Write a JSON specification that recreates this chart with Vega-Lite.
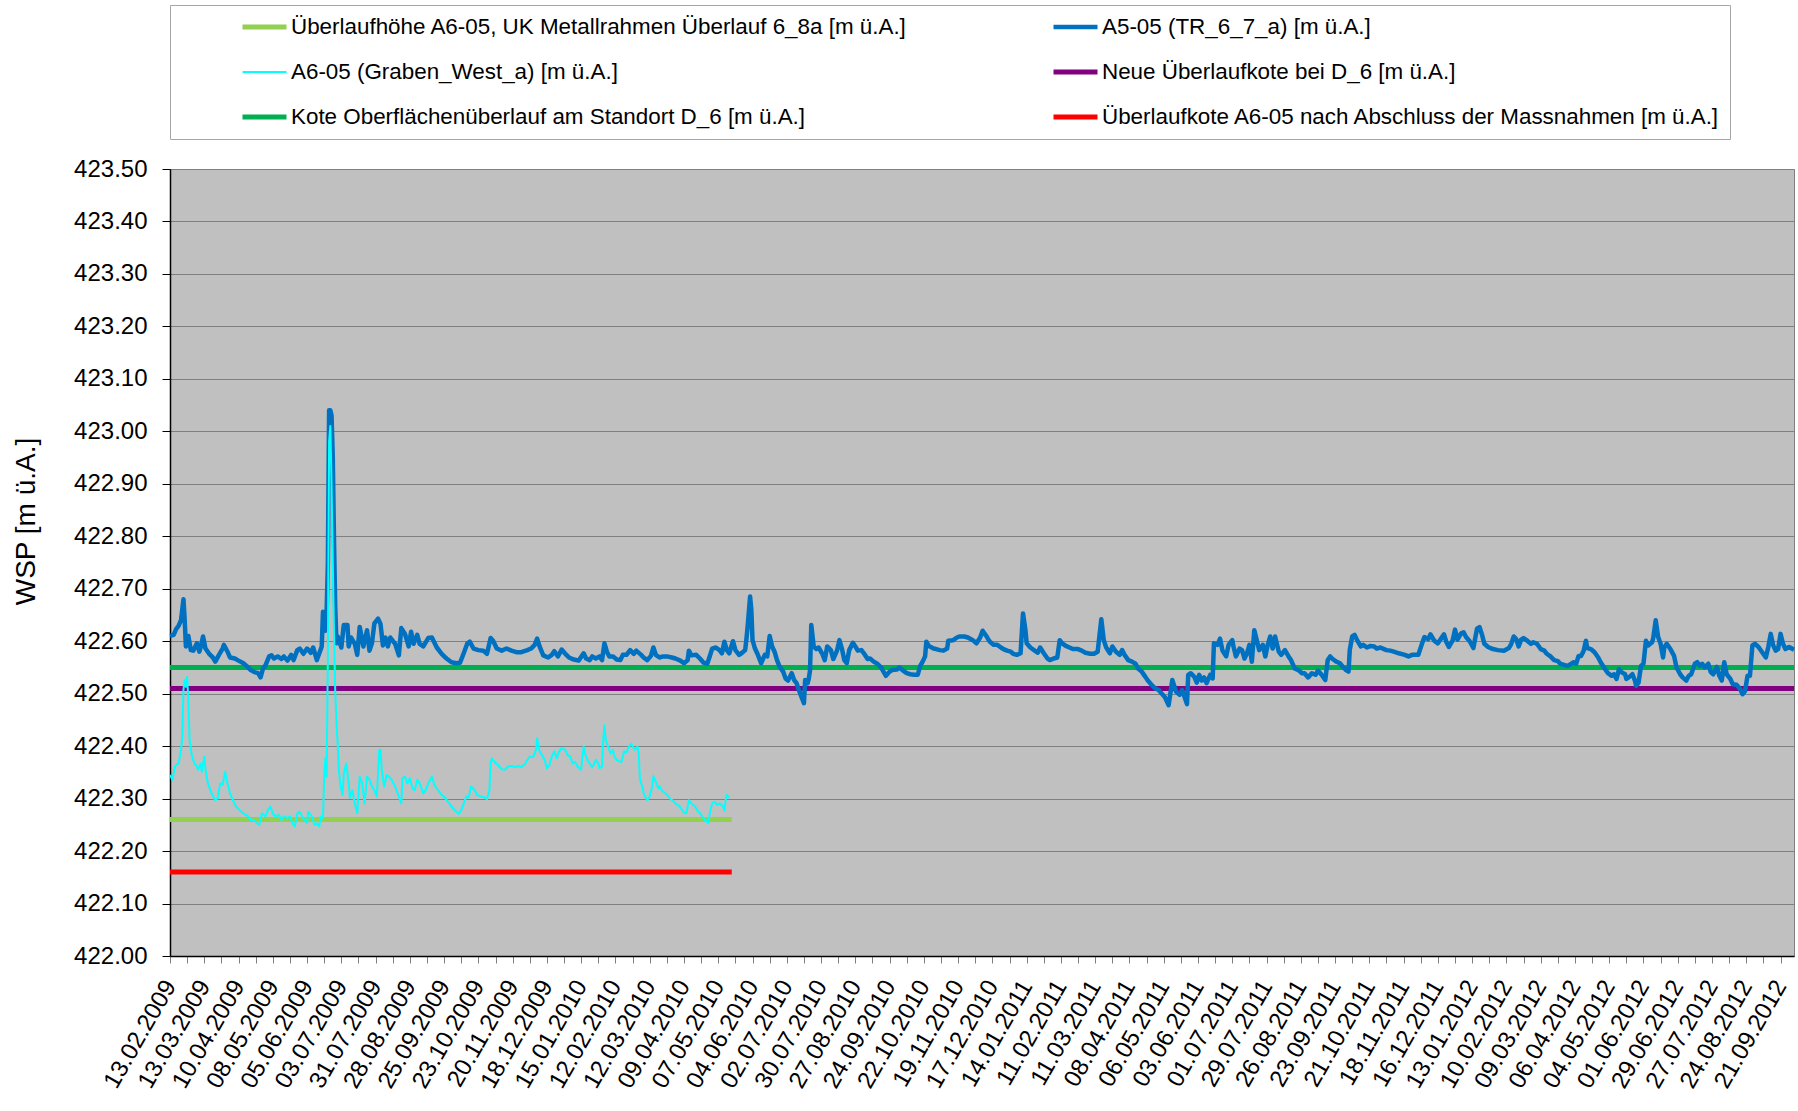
{
"$schema": "https://vega.github.io/schema/vega-lite/v6.json",
"width": 1624,
"height": 787,
"autosize": {"type": "none"},
"padding": {"left": 170, "top": 169, "right": 4, "bottom": 155},
"background": "white",
"config": {
  "font": "Liberation Sans",
  "view": {"fill": "#C0C0C0", "stroke": "#808080", "strokeWidth": 1},
  "legend": {
    "orient": "none", "legendX": 0, "legendY": -164, "columns": 2,
    "columnPadding": 143, "rowPadding": 19, "padding": 9, "clipHeight": 26,
    "symbolType": "stroke", "symbolSize": 1936,
    "labelFontSize": 22.4, "labelColor": "black", "labelOffset": 2, "labelLimit": 1000,
    "titleOrient": "left", "titleFontSize": 1, "titlePadding": 61,
    "strokeColor": "#A6A6A6", "fillColor": "white"
  }
},
"datasets": {
"refs": [
{"date":"2009-02-13","value":422.26,"series":"Überlaufhöhe A6-05, UK Metallrahmen Überlauf 6_8a [m ü.A.]"},
{"date":"2010-05-18","value":422.26,"series":"Überlaufhöhe A6-05, UK Metallrahmen Überlauf 6_8a [m ü.A.]"},
{"date":"2009-02-13","value":422.16,"series":"Überlaufkote A6-05 nach Abschluss der Massnahmen [m ü.A.]"},
{"date":"2010-05-18","value":422.16,"series":"Überlaufkote A6-05 nach Abschluss der Massnahmen [m ü.A.]"},
{"date":"2009-02-13","value":422.55,"series":"Kote Oberflächenüberlauf am Standort D_6 [m ü.A.]"},
{"date":"2012-10-02","value":422.55,"series":"Kote Oberflächenüberlauf am Standort D_6 [m ü.A.]"},
{"date":"2009-02-13","value":422.51,"series":"Neue Überlaufkote bei D_6 [m ü.A.]"},
{"date":"2012-10-02","value":422.51,"series":"Neue Überlaufkote bei D_6 [m ü.A.]"}
],
"a5": [
{"date":"2009-02-13","value":422.61},{"date":"2009-02-16","value":422.612},{"date":"2009-02-18","value":422.623},{"date":"2009-02-20","value":422.629},{"date":"2009-02-22","value":422.64},{"date":"2009-02-24","value":422.68},{"date":"2009-02-25","value":422.64},{"date":"2009-02-26","value":422.59},{"date":"2009-02-28","value":422.61},
{"date":"2009-03-02","value":422.583},{"date":"2009-03-04","value":422.582},{"date":"2009-03-07","value":422.596},{"date":"2009-03-09","value":422.58},{"date":"2009-03-10","value":422.588},{"date":"2009-03-12","value":422.609},{"date":"2009-03-14","value":422.586},{"date":"2009-03-17","value":422.576},{"date":"2009-03-20","value":422.569},{"date":"2009-03-22","value":422.561},{"date":"2009-03-25","value":422.574},{"date":"2009-03-28","value":422.586},{"date":"2009-03-29","value":422.593},
{"date":"2009-04-01","value":422.58},{"date":"2009-04-03","value":422.569},{"date":"2009-04-07","value":422.567},{"date":"2009-04-10","value":422.563},{"date":"2009-04-14","value":422.558},{"date":"2009-04-17","value":422.552},{"date":"2009-04-20","value":422.545},{"date":"2009-04-23","value":422.541},{"date":"2009-04-26","value":422.539},{"date":"2009-04-28","value":422.531},{"date":"2009-04-30","value":422.548},
{"date":"2009-05-02","value":422.554},{"date":"2009-05-05","value":422.571},{"date":"2009-05-07","value":422.573},{"date":"2009-05-09","value":422.567},{"date":"2009-05-12","value":422.571},{"date":"2009-05-15","value":422.566},{"date":"2009-05-17","value":422.571},{"date":"2009-05-20","value":422.563},{"date":"2009-05-23","value":422.574},{"date":"2009-05-25","value":422.564},{"date":"2009-05-28","value":422.583},{"date":"2009-05-30","value":422.586},
{"date":"2009-06-02","value":422.576},{"date":"2009-06-05","value":422.586},{"date":"2009-06-08","value":422.578},{"date":"2009-06-10","value":422.588},{"date":"2009-06-13","value":422.564},{"date":"2009-06-15","value":422.577},{"date":"2009-06-17","value":422.59},{"date":"2009-06-18","value":422.656},{"date":"2009-06-20","value":422.62},{"date":"2009-06-21","value":422.658},{"date":"2009-06-22","value":422.75},{"date":"2009-06-23","value":423.04},{"date":"2009-06-24","value":423.04},{"date":"2009-06-25","value":423.03},{"date":"2009-06-26","value":422.952},{"date":"2009-06-27","value":422.793},{"date":"2009-06-28","value":422.666},{"date":"2009-06-29","value":422.596},{"date":"2009-06-30","value":422.609},
{"date":"2009-07-03","value":422.588},{"date":"2009-07-05","value":422.631},{"date":"2009-07-08","value":422.631},{"date":"2009-07-09","value":422.59},{"date":"2009-07-11","value":422.607},{"date":"2009-07-14","value":422.595},{"date":"2009-07-16","value":422.574},{"date":"2009-07-18","value":422.627},{"date":"2009-07-21","value":422.59},{"date":"2009-07-24","value":422.621},{"date":"2009-07-26","value":422.582},{"date":"2009-07-28","value":422.596},{"date":"2009-07-30","value":422.634},
{"date":"2009-08-02","value":422.643},{"date":"2009-08-04","value":422.633},{"date":"2009-08-06","value":422.592},{"date":"2009-08-08","value":422.607},{"date":"2009-08-10","value":422.59},{"date":"2009-08-12","value":422.607},{"date":"2009-08-16","value":422.595},{"date":"2009-08-19","value":422.573},{"date":"2009-08-21","value":422.625},{"date":"2009-08-24","value":422.614},{"date":"2009-08-27","value":422.59},{"date":"2009-08-29","value":422.618},{"date":"2009-08-31","value":422.595},
{"date":"2009-09-03","value":422.612},{"date":"2009-09-05","value":422.595},{"date":"2009-09-08","value":422.59},{"date":"2009-09-12","value":422.606},{"date":"2009-09-15","value":422.607},{"date":"2009-09-19","value":422.588},{"date":"2009-09-23","value":422.576},{"date":"2009-09-27","value":422.567},
{"date":"2009-10-01","value":422.56},{"date":"2009-10-05","value":422.558},{"date":"2009-10-08","value":422.559},{"date":"2009-10-11","value":422.577},{"date":"2009-10-14","value":422.596},{"date":"2009-10-16","value":422.599},{"date":"2009-10-19","value":422.586},{"date":"2009-10-23","value":422.583},{"date":"2009-10-27","value":422.582},{"date":"2009-10-30","value":422.576},
{"date":"2009-11-02","value":422.606},{"date":"2009-11-04","value":422.601},{"date":"2009-11-07","value":422.586},{"date":"2009-11-11","value":422.582},{"date":"2009-11-15","value":422.586},{"date":"2009-11-19","value":422.582},{"date":"2009-11-23","value":422.579},{"date":"2009-11-27","value":422.579},
{"date":"2009-12-02","value":422.583},{"date":"2009-12-05","value":422.586},{"date":"2009-12-08","value":422.593},{"date":"2009-12-10","value":422.605},{"date":"2009-12-12","value":422.59},{"date":"2009-12-15","value":422.573},{"date":"2009-12-19","value":422.569},{"date":"2009-12-22","value":422.574},{"date":"2009-12-24","value":422.581},{"date":"2009-12-27","value":422.571},{"date":"2009-12-30","value":422.584},
{"date":"2010-01-02","value":422.576},{"date":"2010-01-05","value":422.569},{"date":"2010-01-09","value":422.565},{"date":"2010-01-13","value":422.563},{"date":"2010-01-17","value":422.577},{"date":"2010-01-19","value":422.567},{"date":"2010-01-22","value":422.564},{"date":"2010-01-24","value":422.571},{"date":"2010-01-27","value":422.567},{"date":"2010-01-30","value":422.571},
{"date":"2010-02-01","value":422.564},{"date":"2010-02-03","value":422.596},{"date":"2010-02-05","value":422.58},{"date":"2010-02-07","value":422.571},{"date":"2010-02-10","value":422.571},{"date":"2010-02-13","value":422.565},{"date":"2010-02-16","value":422.564},{"date":"2010-02-18","value":422.574},{"date":"2010-02-21","value":422.574},{"date":"2010-02-24","value":422.583},{"date":"2010-02-27","value":422.576},
{"date":"2010-03-01","value":422.582},{"date":"2010-03-05","value":422.574},{"date":"2010-03-07","value":422.569},{"date":"2010-03-10","value":422.564},{"date":"2010-03-13","value":422.572},{"date":"2010-03-15","value":422.588},{"date":"2010-03-17","value":422.574},{"date":"2010-03-20","value":422.569},{"date":"2010-03-23","value":422.571},{"date":"2010-03-26","value":422.571},{"date":"2010-03-30","value":422.569},
{"date":"2010-04-02","value":422.567},{"date":"2010-04-06","value":422.563},{"date":"2010-04-09","value":422.558},{"date":"2010-04-12","value":422.564},{"date":"2010-04-13","value":422.582},{"date":"2010-04-15","value":422.573},{"date":"2010-04-19","value":422.574},{"date":"2010-04-22","value":422.567},{"date":"2010-04-25","value":422.559},{"date":"2010-04-28","value":422.557},{"date":"2010-04-30","value":422.571},
{"date":"2010-05-02","value":422.586},{"date":"2010-05-05","value":422.588},{"date":"2010-05-08","value":422.583},{"date":"2010-05-10","value":422.577},{"date":"2010-05-12","value":422.599},{"date":"2010-05-14","value":422.583},{"date":"2010-05-16","value":422.577},{"date":"2010-05-19","value":422.6},{"date":"2010-05-21","value":422.583},{"date":"2010-05-24","value":422.574},{"date":"2010-05-26","value":422.577},{"date":"2010-05-29","value":422.583},{"date":"2010-05-30","value":422.604},{"date":"2010-05-31","value":422.628},
{"date":"2010-06-02","value":422.685},{"date":"2010-06-03","value":422.66},{"date":"2010-06-04","value":422.602},{"date":"2010-06-06","value":422.586},{"date":"2010-06-08","value":422.576},{"date":"2010-06-11","value":422.558},{"date":"2010-06-14","value":422.574},{"date":"2010-06-16","value":422.571},{"date":"2010-06-18","value":422.61},{"date":"2010-06-20","value":422.59},{"date":"2010-06-22","value":422.58},{"date":"2010-06-24","value":422.564},{"date":"2010-06-26","value":422.552},{"date":"2010-06-29","value":422.542},
{"date":"2010-07-01","value":422.529},{"date":"2010-07-03","value":422.525},{"date":"2010-07-06","value":422.539},{"date":"2010-07-08","value":422.526},{"date":"2010-07-10","value":422.52},{"date":"2010-07-12","value":422.506},{"date":"2010-07-14","value":422.494},{"date":"2010-07-16","value":422.482},{"date":"2010-07-17","value":422.526},{"date":"2010-07-19","value":422.52},{"date":"2010-07-20","value":422.529},{"date":"2010-07-21","value":422.545},{"date":"2010-07-22","value":422.631},{"date":"2010-07-24","value":422.59},{"date":"2010-07-26","value":422.585},{"date":"2010-07-28","value":422.588},{"date":"2010-07-31","value":422.576},
{"date":"2010-08-02","value":422.564},{"date":"2010-08-04","value":422.59},{"date":"2010-08-07","value":422.583},{"date":"2010-08-09","value":422.566},{"date":"2010-08-12","value":422.582},{"date":"2010-08-14","value":422.602},{"date":"2010-08-16","value":422.586},{"date":"2010-08-18","value":422.564},{"date":"2010-08-20","value":422.558},{"date":"2010-08-22","value":422.583},{"date":"2010-08-25","value":422.597},{"date":"2010-08-27","value":422.59},{"date":"2010-08-29","value":422.582},
{"date":"2010-09-01","value":422.583},{"date":"2010-09-03","value":422.577},{"date":"2010-09-06","value":422.566},{"date":"2010-09-08","value":422.567},{"date":"2010-09-11","value":422.561},{"date":"2010-09-14","value":422.557},{"date":"2010-09-17","value":422.55},{"date":"2010-09-19","value":422.542},{"date":"2010-09-21","value":422.534},{"date":"2010-09-24","value":422.542},{"date":"2010-09-26","value":422.545},{"date":"2010-09-30","value":422.546},
{"date":"2010-10-02","value":422.55},{"date":"2010-10-05","value":422.544},{"date":"2010-10-08","value":422.539},{"date":"2010-10-11","value":422.537},{"date":"2010-10-14","value":422.536},{"date":"2010-10-17","value":422.536},{"date":"2010-10-19","value":422.553},{"date":"2010-10-21","value":422.561},{"date":"2010-10-23","value":422.571},{"date":"2010-10-24","value":422.599},{"date":"2010-10-26","value":422.591},{"date":"2010-10-30","value":422.586},
{"date":"2010-11-01","value":422.585},{"date":"2010-11-04","value":422.583},{"date":"2010-11-07","value":422.582},{"date":"2010-11-10","value":422.586},{"date":"2010-11-11","value":422.601},{"date":"2010-11-15","value":422.602},{"date":"2010-11-18","value":422.607},{"date":"2010-11-20","value":422.609},{"date":"2010-11-24","value":422.609},{"date":"2010-11-27","value":422.607},
{"date":"2010-12-01","value":422.602},{"date":"2010-12-04","value":422.596},{"date":"2010-12-07","value":422.607},{"date":"2010-12-09","value":422.62},{"date":"2010-12-12","value":422.61},{"date":"2010-12-14","value":422.602},{"date":"2010-12-15","value":422.599},{"date":"2010-12-18","value":422.593},{"date":"2010-12-21","value":422.593},{"date":"2010-12-24","value":422.588},{"date":"2010-12-26","value":422.585},{"date":"2010-12-29","value":422.582},
{"date":"2011-01-01","value":422.58},{"date":"2011-01-03","value":422.576},{"date":"2011-01-06","value":422.574},{"date":"2011-01-09","value":422.577},{"date":"2011-01-11","value":422.653},{"date":"2011-01-13","value":422.621},{"date":"2011-01-14","value":422.596},{"date":"2011-01-17","value":422.588},{"date":"2011-01-20","value":422.583},{"date":"2011-01-23","value":422.578},{"date":"2011-01-25","value":422.588},{"date":"2011-01-28","value":422.577},{"date":"2011-01-31","value":422.567},
{"date":"2011-02-02","value":422.564},{"date":"2011-02-05","value":422.567},{"date":"2011-02-08","value":422.569},{"date":"2011-02-10","value":422.602},{"date":"2011-02-12","value":422.596},{"date":"2011-02-15","value":422.591},{"date":"2011-02-18","value":422.588},{"date":"2011-02-21","value":422.585},{"date":"2011-02-25","value":422.585},{"date":"2011-02-28","value":422.582},
{"date":"2011-03-03","value":422.578},{"date":"2011-03-07","value":422.576},{"date":"2011-03-10","value":422.576},{"date":"2011-03-13","value":422.58},{"date":"2011-03-16","value":422.642},{"date":"2011-03-18","value":422.602},{"date":"2011-03-20","value":422.588},{"date":"2011-03-23","value":422.577},{"date":"2011-03-25","value":422.59},{"date":"2011-03-28","value":422.58},{"date":"2011-03-31","value":422.574},
{"date":"2011-04-02","value":422.583},{"date":"2011-04-04","value":422.574},{"date":"2011-04-07","value":422.564},{"date":"2011-04-10","value":422.561},{"date":"2011-04-13","value":422.557},{"date":"2011-04-15","value":422.548},{"date":"2011-04-18","value":422.542},{"date":"2011-04-21","value":422.532},{"date":"2011-04-23","value":422.525},{"date":"2011-04-26","value":422.517},{"date":"2011-04-29","value":422.51},
{"date":"2011-05-02","value":422.507},{"date":"2011-05-04","value":422.501},{"date":"2011-05-07","value":422.493},{"date":"2011-05-10","value":422.478},{"date":"2011-05-11","value":422.494},{"date":"2011-05-13","value":422.526},{"date":"2011-05-15","value":422.512},{"date":"2011-05-16","value":422.504},{"date":"2011-05-19","value":422.498},{"date":"2011-05-21","value":422.507},{"date":"2011-05-23","value":422.494},{"date":"2011-05-25","value":422.48},{"date":"2011-05-26","value":422.536},{"date":"2011-05-28","value":422.539},{"date":"2011-05-31","value":422.532},
{"date":"2011-06-02","value":422.521},{"date":"2011-06-04","value":422.536},{"date":"2011-06-06","value":422.525},{"date":"2011-06-08","value":422.531},{"date":"2011-06-10","value":422.52},{"date":"2011-06-13","value":422.536},{"date":"2011-06-15","value":422.529},{"date":"2011-06-16","value":422.596},{"date":"2011-06-19","value":422.593},{"date":"2011-06-21","value":422.605},{"date":"2011-06-23","value":422.582},{"date":"2011-06-26","value":422.571},{"date":"2011-06-28","value":422.593},
{"date":"2011-07-01","value":422.602},{"date":"2011-07-02","value":422.59},{"date":"2011-07-04","value":422.571},{"date":"2011-07-07","value":422.586},{"date":"2011-07-09","value":422.583},{"date":"2011-07-11","value":422.567},{"date":"2011-07-13","value":422.577},{"date":"2011-07-15","value":422.593},{"date":"2011-07-17","value":422.561},{"date":"2011-07-19","value":422.621},{"date":"2011-07-21","value":422.602},{"date":"2011-07-23","value":422.583},{"date":"2011-07-26","value":422.593},{"date":"2011-07-28","value":422.571},{"date":"2011-07-30","value":422.593},
{"date":"2011-08-01","value":422.609},{"date":"2011-08-03","value":422.586},{"date":"2011-08-05","value":422.609},{"date":"2011-08-08","value":422.58},{"date":"2011-08-10","value":422.574},{"date":"2011-08-13","value":422.583},{"date":"2011-08-16","value":422.571},{"date":"2011-08-18","value":422.564},{"date":"2011-08-21","value":422.548},{"date":"2011-08-24","value":422.545},{"date":"2011-08-27","value":422.539},{"date":"2011-08-29","value":422.539},
{"date":"2011-09-01","value":422.531},{"date":"2011-09-04","value":422.539},{"date":"2011-09-07","value":422.536},{"date":"2011-09-09","value":422.544},{"date":"2011-09-12","value":422.536},{"date":"2011-09-15","value":422.526},{"date":"2011-09-17","value":422.564},{"date":"2011-09-19","value":422.571},{"date":"2011-09-21","value":422.566},{"date":"2011-09-24","value":422.561},{"date":"2011-09-27","value":422.558},{"date":"2011-09-29","value":422.552},
{"date":"2011-10-02","value":422.545},{"date":"2011-10-04","value":422.542},{"date":"2011-10-05","value":422.583},{"date":"2011-10-07","value":422.609},{"date":"2011-10-09","value":422.612},{"date":"2011-10-11","value":422.602},{"date":"2011-10-14","value":422.59},{"date":"2011-10-16","value":422.593},{"date":"2011-10-19","value":422.588},{"date":"2011-10-22","value":422.591},{"date":"2011-10-25","value":422.59},{"date":"2011-10-27","value":422.586},{"date":"2011-10-30","value":422.588},
{"date":"2011-11-02","value":422.585},{"date":"2011-11-04","value":422.583},{"date":"2011-11-07","value":422.582},{"date":"2011-11-10","value":422.58},{"date":"2011-11-14","value":422.577},{"date":"2011-11-19","value":422.574},{"date":"2011-11-22","value":422.571},{"date":"2011-11-25","value":422.574},{"date":"2011-11-30","value":422.574},
{"date":"2011-12-03","value":422.595},{"date":"2011-12-05","value":422.608},{"date":"2011-12-08","value":422.604},{"date":"2011-12-10","value":422.613},{"date":"2011-12-13","value":422.601},{"date":"2011-12-16","value":422.596},{"date":"2011-12-18","value":422.603},{"date":"2011-12-21","value":422.613},{"date":"2011-12-23","value":422.598},{"date":"2011-12-25","value":422.589},{"date":"2011-12-28","value":422.601},{"date":"2011-12-30","value":422.622},
{"date":"2012-01-01","value":422.603},{"date":"2012-01-04","value":422.615},{"date":"2012-01-06","value":422.617},{"date":"2012-01-08","value":422.608},{"date":"2012-01-11","value":422.6},{"date":"2012-01-14","value":422.587},{"date":"2012-01-17","value":422.624},{"date":"2012-01-19","value":422.627},{"date":"2012-01-21","value":422.613},{"date":"2012-01-23","value":422.595},{"date":"2012-01-26","value":422.589},{"date":"2012-01-30","value":422.585},
{"date":"2012-02-03","value":422.583},{"date":"2012-02-08","value":422.582},{"date":"2012-02-12","value":422.587},{"date":"2012-02-14","value":422.595},{"date":"2012-02-16","value":422.609},{"date":"2012-02-18","value":422.604},{"date":"2012-02-20","value":422.59},{"date":"2012-02-22","value":422.603},{"date":"2012-02-24","value":422.606},{"date":"2012-02-27","value":422.601},
{"date":"2012-03-01","value":422.595},{"date":"2012-03-03","value":422.598},{"date":"2012-03-06","value":422.595},{"date":"2012-03-09","value":422.585},{"date":"2012-03-12","value":422.582},{"date":"2012-03-14","value":422.576},{"date":"2012-03-17","value":422.571},{"date":"2012-03-20","value":422.564},{"date":"2012-03-23","value":422.562},{"date":"2012-03-25","value":422.557},{"date":"2012-03-28","value":422.555},{"date":"2012-03-31","value":422.553},
{"date":"2012-04-03","value":422.557},{"date":"2012-04-05","value":422.56},{"date":"2012-04-07","value":422.557},{"date":"2012-04-09","value":422.572},{"date":"2012-04-11","value":422.572},{"date":"2012-04-13","value":422.581},{"date":"2012-04-15","value":422.601},{"date":"2012-04-16","value":422.587},{"date":"2012-04-19","value":422.585},{"date":"2012-04-22","value":422.579},{"date":"2012-04-25","value":422.569},{"date":"2012-04-27","value":422.56},{"date":"2012-04-30","value":422.549},
{"date":"2012-05-03","value":422.539},{"date":"2012-05-06","value":422.534},{"date":"2012-05-08","value":422.537},{"date":"2012-05-10","value":422.528},{"date":"2012-05-12","value":422.547},{"date":"2012-05-14","value":422.541},{"date":"2012-05-17","value":422.537},{"date":"2012-05-18","value":422.528},{"date":"2012-05-20","value":422.531},{"date":"2012-05-23","value":422.537},{"date":"2012-05-25","value":422.525},{"date":"2012-05-26","value":422.515},{"date":"2012-05-28","value":422.521},{"date":"2012-05-30","value":422.553},
{"date":"2012-06-01","value":422.557},{"date":"2012-06-03","value":422.601},{"date":"2012-06-05","value":422.592},{"date":"2012-06-08","value":422.598},{"date":"2012-06-09","value":422.606},{"date":"2012-06-11","value":422.64},{"date":"2012-06-13","value":422.608},{"date":"2012-06-15","value":422.595},{"date":"2012-06-17","value":422.569},{"date":"2012-06-18","value":422.588},{"date":"2012-06-20","value":422.595},{"date":"2012-06-23","value":422.585},{"date":"2012-06-26","value":422.572},{"date":"2012-06-28","value":422.55},
{"date":"2012-07-01","value":422.537},{"date":"2012-07-03","value":422.531},{"date":"2012-07-06","value":422.525},{"date":"2012-07-08","value":422.534},{"date":"2012-07-10","value":422.537},{"date":"2012-07-13","value":422.557},{"date":"2012-07-15","value":422.56},{"date":"2012-07-17","value":422.553},{"date":"2012-07-19","value":422.557},{"date":"2012-07-21","value":422.55},{"date":"2012-07-24","value":422.557},{"date":"2012-07-26","value":422.541},{"date":"2012-07-28","value":422.537},{"date":"2012-07-31","value":422.551},
{"date":"2012-08-02","value":422.534},{"date":"2012-08-04","value":422.525},{"date":"2012-08-06","value":422.56},{"date":"2012-08-08","value":422.537},{"date":"2012-08-11","value":422.528},{"date":"2012-08-13","value":422.518},{"date":"2012-08-16","value":422.517},{"date":"2012-08-19","value":422.509},{"date":"2012-08-21","value":422.499},{"date":"2012-08-23","value":422.505},{"date":"2012-08-25","value":422.534},{"date":"2012-08-27","value":422.534},{"date":"2012-08-29","value":422.592},{"date":"2012-08-31","value":422.595},
{"date":"2012-09-03","value":422.589},{"date":"2012-09-06","value":422.579},{"date":"2012-09-09","value":422.569},{"date":"2012-09-11","value":422.589},{"date":"2012-09-13","value":422.614},{"date":"2012-09-15","value":422.592},{"date":"2012-09-17","value":422.582},{"date":"2012-09-19","value":422.585},{"date":"2012-09-21","value":422.614},{"date":"2012-09-23","value":422.595},{"date":"2012-09-25","value":422.585},{"date":"2012-09-28","value":422.589},
{"date":"2012-10-01","value":422.585},{"date":"2012-10-02","value":422.584}
],
"a6": [
{"date":"2009-02-13","value":422.345},{"date":"2009-02-15","value":422.336},{"date":"2009-02-17","value":422.361},{"date":"2009-02-18","value":422.364},{"date":"2009-02-20","value":422.367},{"date":"2009-02-22","value":422.393},{"date":"2009-02-23","value":422.418},{"date":"2009-02-24","value":422.507},{"date":"2009-02-25","value":422.526},{"date":"2009-02-26","value":422.513},{"date":"2009-02-27","value":422.532},{"date":"2009-02-28","value":422.488},
{"date":"2009-03-01","value":422.412},{"date":"2009-03-03","value":422.38},{"date":"2009-03-05","value":422.367},{"date":"2009-03-07","value":422.361},{"date":"2009-03-08","value":422.355},{"date":"2009-03-10","value":422.367},{"date":"2009-03-11","value":422.351},{"date":"2009-03-13","value":422.38},{"date":"2009-03-14","value":422.355},{"date":"2009-03-16","value":422.329},{"date":"2009-03-19","value":422.31},{"date":"2009-03-22","value":422.297},{"date":"2009-03-24","value":422.301},{"date":"2009-03-26","value":422.329},{"date":"2009-03-28","value":422.326},{"date":"2009-03-30","value":422.351},
{"date":"2009-04-01","value":422.329},{"date":"2009-04-03","value":422.31},{"date":"2009-04-06","value":422.294},{"date":"2009-04-08","value":422.285},{"date":"2009-04-11","value":422.278},{"date":"2009-04-14","value":422.272},{"date":"2009-04-16","value":422.269},{"date":"2009-04-18","value":422.266},{"date":"2009-04-20","value":422.259},{"date":"2009-04-23","value":422.259},{"date":"2009-04-25","value":422.253},{"date":"2009-04-27","value":422.25},{"date":"2009-04-29","value":422.272},
{"date":"2009-05-02","value":422.266},{"date":"2009-05-04","value":422.278},{"date":"2009-05-06","value":422.285},{"date":"2009-05-08","value":422.272},{"date":"2009-05-10","value":422.266},{"date":"2009-05-13","value":422.269},{"date":"2009-05-15","value":422.259},{"date":"2009-05-17","value":422.266},{"date":"2009-05-20","value":422.263},{"date":"2009-05-22","value":422.266},{"date":"2009-05-24","value":422.253},{"date":"2009-05-26","value":422.247},{"date":"2009-05-28","value":422.272},{"date":"2009-05-30","value":422.275},
{"date":"2009-06-01","value":422.266},{"date":"2009-06-03","value":422.259},{"date":"2009-06-05","value":422.253},{"date":"2009-06-06","value":422.275},{"date":"2009-06-09","value":422.266},{"date":"2009-06-11","value":422.25},{"date":"2009-06-13","value":422.253},{"date":"2009-06-15","value":422.247},{"date":"2009-06-16","value":422.266},{"date":"2009-06-18","value":422.263},{"date":"2009-06-19","value":422.342},{"date":"2009-06-20","value":422.377},{"date":"2009-06-21","value":422.342},{"date":"2009-06-22","value":422.571},{"date":"2009-06-23","value":422.98},{"date":"2009-06-24","value":423.01},{"date":"2009-06-25","value":422.9},{"date":"2009-06-26","value":422.75},{"date":"2009-06-27","value":422.62},{"date":"2009-06-28","value":422.507},{"date":"2009-06-29","value":422.444},{"date":"2009-06-30","value":422.405},
{"date":"2009-07-01","value":422.355},{"date":"2009-07-02","value":422.329},{"date":"2009-07-04","value":422.307},{"date":"2009-07-05","value":422.348},{"date":"2009-07-07","value":422.367},{"date":"2009-07-09","value":422.329},{"date":"2009-07-10","value":422.301},{"date":"2009-07-12","value":422.316},{"date":"2009-07-14","value":422.291},{"date":"2009-07-16","value":422.272},{"date":"2009-07-18","value":422.342},{"date":"2009-07-20","value":422.329},{"date":"2009-07-22","value":422.291},{"date":"2009-07-24","value":422.342},{"date":"2009-07-26","value":422.336},{"date":"2009-07-28","value":422.323},{"date":"2009-07-30","value":422.316},
{"date":"2009-08-01","value":422.304},{"date":"2009-08-03","value":422.393},{"date":"2009-08-04","value":422.393},{"date":"2009-08-05","value":422.355},{"date":"2009-08-07","value":422.323},{"date":"2009-08-09","value":422.345},{"date":"2009-08-11","value":422.342},{"date":"2009-08-13","value":422.336},{"date":"2009-08-16","value":422.323},{"date":"2009-08-19","value":422.304},{"date":"2009-08-21","value":422.291},{"date":"2009-08-22","value":422.339},{"date":"2009-08-24","value":422.342},{"date":"2009-08-26","value":422.329},{"date":"2009-08-28","value":422.339},{"date":"2009-08-30","value":422.32},
{"date":"2009-09-01","value":422.316},{"date":"2009-09-03","value":422.336},{"date":"2009-09-05","value":422.329},{"date":"2009-09-08","value":422.31},{"date":"2009-09-10","value":422.316},{"date":"2009-09-12","value":422.329},{"date":"2009-09-15","value":422.342},{"date":"2009-09-17","value":422.326},{"date":"2009-09-20","value":422.316},{"date":"2009-09-23","value":422.307},{"date":"2009-09-26","value":422.301},{"date":"2009-09-28","value":422.294},
{"date":"2009-10-01","value":422.285},{"date":"2009-10-04","value":422.277},{"date":"2009-10-07","value":422.271},{"date":"2009-10-09","value":422.278},{"date":"2009-10-11","value":422.291},{"date":"2009-10-13","value":422.304},{"date":"2009-10-15","value":422.302},{"date":"2009-10-17","value":422.323},{"date":"2009-10-20","value":422.316},{"date":"2009-10-22","value":422.307},{"date":"2009-10-25","value":422.304},{"date":"2009-10-28","value":422.302},{"date":"2009-10-30","value":422.299},
{"date":"2009-11-01","value":422.316},{"date":"2009-11-02","value":422.367},{"date":"2009-11-03","value":422.377},{"date":"2009-11-05","value":422.37},{"date":"2009-11-08","value":422.364},{"date":"2009-11-11","value":422.356},{"date":"2009-11-14","value":422.355},{"date":"2009-11-16","value":422.361},{"date":"2009-11-19","value":422.362},{"date":"2009-11-22","value":422.36},{"date":"2009-11-25","value":422.362},{"date":"2009-11-27","value":422.36},{"date":"2009-11-30","value":422.366},
{"date":"2009-12-02","value":422.374},{"date":"2009-12-04","value":422.38},{"date":"2009-12-07","value":422.38},{"date":"2009-12-09","value":422.393},{"date":"2009-12-10","value":422.415},{"date":"2009-12-12","value":422.39},{"date":"2009-12-14","value":422.383},{"date":"2009-12-16","value":422.374},{"date":"2009-12-18","value":422.358},{"date":"2009-12-20","value":422.364},{"date":"2009-12-22","value":422.38},{"date":"2009-12-24","value":422.39},{"date":"2009-12-26","value":422.377},{"date":"2009-12-28","value":422.39},{"date":"2009-12-30","value":422.396},
{"date":"2010-01-02","value":422.393},{"date":"2010-01-04","value":422.383},{"date":"2010-01-06","value":422.38},{"date":"2010-01-08","value":422.367},{"date":"2010-01-10","value":422.37},{"date":"2010-01-12","value":422.361},{"date":"2010-01-15","value":422.355},{"date":"2010-01-16","value":422.38},{"date":"2010-01-17","value":422.399},{"date":"2010-01-18","value":422.386},{"date":"2010-01-20","value":422.374},{"date":"2010-01-22","value":422.367},{"date":"2010-01-24","value":422.36},{"date":"2010-01-25","value":422.364},{"date":"2010-01-27","value":422.374},{"date":"2010-01-29","value":422.367},{"date":"2010-01-30","value":422.358},
{"date":"2010-02-01","value":422.361},{"date":"2010-02-02","value":422.412},{"date":"2010-02-03","value":422.44},{"date":"2010-02-04","value":422.412},{"date":"2010-02-06","value":422.399},{"date":"2010-02-08","value":422.386},{"date":"2010-02-10","value":422.393},{"date":"2010-02-11","value":422.38},{"date":"2010-02-13","value":422.374},{"date":"2010-02-16","value":422.37},{"date":"2010-02-17","value":422.37},{"date":"2010-02-19","value":422.39},{"date":"2010-02-21","value":422.388},{"date":"2010-02-23","value":422.399},{"date":"2010-02-25","value":422.405},{"date":"2010-02-26","value":422.399},{"date":"2010-02-28","value":422.393},
{"date":"2010-03-02","value":422.399},{"date":"2010-03-03","value":422.386},{"date":"2010-03-04","value":422.336},{"date":"2010-03-06","value":422.323},{"date":"2010-03-07","value":422.31},{"date":"2010-03-09","value":422.301},{"date":"2010-03-10","value":422.297},{"date":"2010-03-12","value":422.304},{"date":"2010-03-14","value":422.323},{"date":"2010-03-15","value":422.343},{"date":"2010-03-17","value":422.332},{"date":"2010-03-19","value":422.32},{"date":"2010-03-20","value":422.324},{"date":"2010-03-22","value":422.315},{"date":"2010-03-25","value":422.31},{"date":"2010-03-27","value":422.305},{"date":"2010-03-29","value":422.299},{"date":"2010-03-31","value":422.296},
{"date":"2010-04-02","value":422.291},{"date":"2010-04-05","value":422.286},{"date":"2010-04-07","value":422.28},{"date":"2010-04-09","value":422.273},{"date":"2010-04-11","value":422.272},{"date":"2010-04-13","value":422.297},{"date":"2010-04-15","value":422.291},{"date":"2010-04-18","value":422.285},{"date":"2010-04-20","value":422.277},{"date":"2010-04-22","value":422.272},{"date":"2010-04-24","value":422.266},{"date":"2010-04-26","value":422.259},{"date":"2010-04-29","value":422.253},{"date":"2010-04-30","value":422.272},
{"date":"2010-05-02","value":422.291},{"date":"2010-05-04","value":422.294},{"date":"2010-05-06","value":422.288},{"date":"2010-05-08","value":422.291},{"date":"2010-05-11","value":422.285},{"date":"2010-05-12","value":422.277},{"date":"2010-05-13","value":422.297},{"date":"2010-05-14","value":422.307},{"date":"2010-05-16","value":422.302}
]
},
"encoding": {
  "x": {
    "field": "date", "type": "temporal",
    "scale": {"type": "utc", "domain": [1234483200000, 1349136000000]},
    "axis": {
      "title": null, "grid": false,
      "values": [1234483200000,1235692800000,1236902400000,1238112000000,1239321600000,1240531200000,1241740800000,1242950400000,1244160000000,1245369600000,1246579200000,1247788800000,1248998400000,1250208000000,1251417600000,1252627200000,1253836800000,1255046400000,1256256000000,1257465600000,1258675200000,1259884800000,1261094400000,1262304000000,1263513600000,1264723200000,1265932800000,1267142400000,1268352000000,1269561600000,1270771200000,1271980800000,1273190400000,1274400000000,1275609600000,1276819200000,1278028800000,1279238400000,1280448000000,1281657600000,1282867200000,1284076800000,1285286400000,1286496000000,1287705600000,1288915200000,1290124800000,1291334400000,1292544000000,1293753600000,1294963200000,1296172800000,1297382400000,1298592000000,1299801600000,1301011200000,1302220800000,1303430400000,1304640000000,1305849600000,1307059200000,1308268800000,1309478400000,1310688000000,1311897600000,1313107200000,1314316800000,1315526400000,1316736000000,1317945600000,1319155200000,1320364800000,1321574400000,1322784000000,1323993600000,1325203200000,1326412800000,1327622400000,1328832000000,1330041600000,1331251200000,1332460800000,1333670400000,1334880000000,1336089600000,1337299200000,1338508800000,1339718400000,1340928000000,1342137600000,1343347200000,1344556800000,1345766400000,1346976000000,1348185600000],
      "labelExpr": "round((datum.value - 1234483200000) / 86400000) % 28 == 0 ? utcFormat(datum.value, '%d.%m.%Y') : ''",
      "labelAngle": -60, "labelAlign": "right", "labelBaseline": "middle",
      "labelFontSize": 24, "labelColor": "black", "labelPadding": 19,
      "labelOverlap": false, "labelFlush": false, "labelBound": false,
      "tickSize": 7, "tickColor": "#808080", "tickWidth": 1,
      "domainColor": "black", "domainWidth": 1.5
    }
  },
  "y": {
    "field": "value", "type": "quantitative",
    "scale": {"domain": [422, 423.5], "zero": false, "nice": false},
    "axis": {
      "values": [422,422.1,422.2,422.3,422.4,422.5,422.6,422.7,422.8,422.9,423,423.1,423.2,423.3,423.4,423.5],
      "format": ".2f", "labelFontSize": 24, "labelColor": "black", "labelPadding": 15,
      "tickSize": 8, "tickColor": "black", "domainColor": "black", "domainWidth": 1.5,
      "grid": true, "gridColor": "#808080", "gridWidth": 1,
      "title": "WSP [m ü.A.]", "titleFontSize": 28, "titleFontWeight": "normal", "titleColor": "black",
      "titleX": -130, "titleY": 352, "titleAngle": 270, "titleAlign": "center", "titleBaseline": "bottom"
    }
  }
},
"layer": [
  {
    "data": {"name": "refs"},
    "mark": {"type": "line"},
    "encoding": {
      "color": {"field": "series", "type": "nominal",
        "scale": {"domain": ["Überlaufhöhe A6-05, UK Metallrahmen Überlauf 6_8a [m ü.A.]","A6-05 (Graben_West_a) [m ü.A.]","Kote Oberflächenüberlauf am Standort D_6 [m ü.A.]","A5-05 (TR_6_7_a) [m ü.A.]","Neue Überlaufkote bei D_6 [m ü.A.]","Überlaufkote A6-05 nach Abschluss der Massnahmen [m ü.A.]"],
                  "range": ["#92D050","#00FFFF","#00B050","#0070C0","#800080","#FF0000"]},
        "legend": {"title": " ", "orient": "none", "legendX": 0, "legendY": -164, "columns": 2}},
      "strokeWidth": {"field": "series", "type": "nominal",
        "scale": {"type": "ordinal", "domain": ["Überlaufhöhe A6-05, UK Metallrahmen Überlauf 6_8a [m ü.A.]","A6-05 (Graben_West_a) [m ü.A.]","Kote Oberflächenüberlauf am Standort D_6 [m ü.A.]","A5-05 (TR_6_7_a) [m ü.A.]","Neue Überlaufkote bei D_6 [m ü.A.]","Überlaufkote A6-05 nach Abschluss der Massnahmen [m ü.A.]"],
                  "range": [5, 2, 5, 4.5, 5, 5]},
        "legend": {"title": " ", "orient": "none", "legendX": 0, "legendY": -164, "columns": 2}}
    }
  },
  {
    "data": {"name": "a5"},
    "mark": {"type": "line", "strokeJoin": "round"},
    "encoding": {
      "color": {"datum": "A5-05 (TR_6_7_a) [m ü.A.]", "type": "nominal",
        "scale": {"domain": ["Überlaufhöhe A6-05, UK Metallrahmen Überlauf 6_8a [m ü.A.]","A6-05 (Graben_West_a) [m ü.A.]","Kote Oberflächenüberlauf am Standort D_6 [m ü.A.]","A5-05 (TR_6_7_a) [m ü.A.]","Neue Überlaufkote bei D_6 [m ü.A.]","Überlaufkote A6-05 nach Abschluss der Massnahmen [m ü.A.]"],
                  "range": ["#92D050","#00FFFF","#00B050","#0070C0","#800080","#FF0000"]},
        "legend": {"title": " ", "orient": "none", "legendX": 0, "legendY": -164, "columns": 2}},
      "strokeWidth": {"datum": "A5-05 (TR_6_7_a) [m ü.A.]", "type": "nominal",
        "scale": {"type": "ordinal", "domain": ["Überlaufhöhe A6-05, UK Metallrahmen Überlauf 6_8a [m ü.A.]","A6-05 (Graben_West_a) [m ü.A.]","Kote Oberflächenüberlauf am Standort D_6 [m ü.A.]","A5-05 (TR_6_7_a) [m ü.A.]","Neue Überlaufkote bei D_6 [m ü.A.]","Überlaufkote A6-05 nach Abschluss der Massnahmen [m ü.A.]"],
                  "range": [5, 2, 5, 4.5, 5, 5]},
        "legend": {"title": " ", "orient": "none", "legendX": 0, "legendY": -164, "columns": 2}}
    }
  },
  {
    "data": {"name": "a6"},
    "mark": {"type": "line", "strokeJoin": "round"},
    "encoding": {
      "color": {"datum": "A6-05 (Graben_West_a) [m ü.A.]", "type": "nominal",
        "scale": {"domain": ["Überlaufhöhe A6-05, UK Metallrahmen Überlauf 6_8a [m ü.A.]","A6-05 (Graben_West_a) [m ü.A.]","Kote Oberflächenüberlauf am Standort D_6 [m ü.A.]","A5-05 (TR_6_7_a) [m ü.A.]","Neue Überlaufkote bei D_6 [m ü.A.]","Überlaufkote A6-05 nach Abschluss der Massnahmen [m ü.A.]"],
                  "range": ["#92D050","#00FFFF","#00B050","#0070C0","#800080","#FF0000"]},
        "legend": {"title": " ", "orient": "none", "legendX": 0, "legendY": -164, "columns": 2}},
      "strokeWidth": {"datum": "A6-05 (Graben_West_a) [m ü.A.]", "type": "nominal",
        "scale": {"type": "ordinal", "domain": ["Überlaufhöhe A6-05, UK Metallrahmen Überlauf 6_8a [m ü.A.]","A6-05 (Graben_West_a) [m ü.A.]","Kote Oberflächenüberlauf am Standort D_6 [m ü.A.]","A5-05 (TR_6_7_a) [m ü.A.]","Neue Überlaufkote bei D_6 [m ü.A.]","Überlaufkote A6-05 nach Abschluss der Massnahmen [m ü.A.]"],
                  "range": [5, 2, 5, 4.5, 5, 5]},
        "legend": {"title": " ", "orient": "none", "legendX": 0, "legendY": -164, "columns": 2}}
    }
  }
]
}
